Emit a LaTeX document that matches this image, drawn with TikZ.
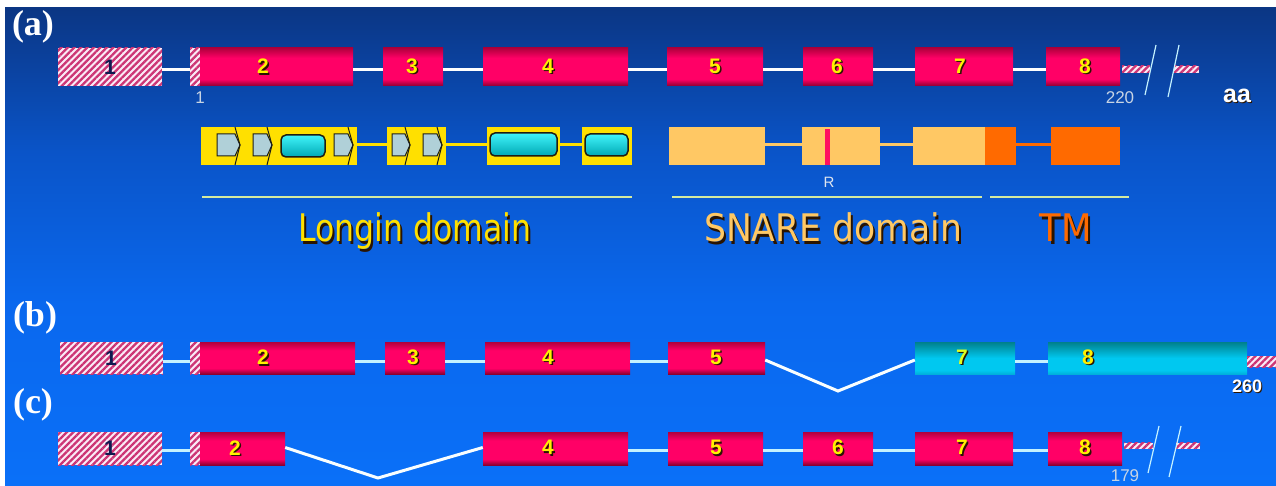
\documentclass[tikz,border=0pt]{standalone}
\usepackage{fontspec}
\setmainfont{Liberation Sans}
\newfontfamily\labelfont{Liberation Serif}
\newfontfamily\domfont{DejaVu Sans}
\usetikzlibrary{calc,patterns.meta}

\definecolor{bgA}{HTML}{0B3684}
\definecolor{bgB}{HTML}{0A54C8}
\definecolor{bgC}{HTML}{0A68EE}
\definecolor{bgD}{HTML}{0A70F8}
\definecolor{exTop}{HTML}{B0003C}
\definecolor{exMid}{HTML}{FF0066}
\definecolor{exBot}{HTML}{8C0030}
\definecolor{cyTop}{HTML}{00808C}
\definecolor{cyMid}{HTML}{00C8F0}
\definecolor{cyBot}{HTML}{00B0DC}
\definecolor{hatchFg}{HTML}{CC3474}
\definecolor{hatchBg}{HTML}{FAEAF6}
\definecolor{numYel}{HTML}{FFF000}
\definecolor{numLime}{HTML}{E0FF20}
\definecolor{numShd}{HTML}{2A1400}
\definecolor{navy}{HTML}{0E1A50}
\definecolor{lgYel}{HTML}{FFE000}
\definecolor{lgArrow}{HTML}{B0D0D8}
\definecolor{lgEdge}{HTML}{1E1E14}
\definecolor{lgCyA}{HTML}{40F4FA}
\definecolor{lgCyB}{HTML}{00A8B4}
\definecolor{snLight}{HTML}{FFC864}
\definecolor{tmOrange}{HTML}{FF6A00}
\definecolor{rBar}{HTML}{FF1060}
\definecolor{ruleCol}{HTML}{D4EAA0}
\definecolor{intronB}{HTML}{C4F2FF}
\definecolor{numGray}{HTML}{C8D4E4}

\pgfdeclareverticalshading{bgshade}{100bp}{color(0bp)=(bgD); color(25bp)=(bgD); color(44bp)=(bgC); color(60bp)=(bgB); color(75bp)=(bgA); color(100bp)=(bgA)}
\pgfdeclareverticalshading{exonshade}{100bp}{color(0bp)=(exBot); color(25bp)=(exBot); color(34bp)=(exMid); color(62bp)=(exMid); color(75bp)=(exTop); color(100bp)=(exTop)}
\pgfdeclareverticalshading{cyanshade}{100bp}{color(0bp)=(cyBot); color(25bp)=(cyBot); color(31bp)=(cyMid); color(50bp)=(cyMid); color(75bp)=(cyTop); color(100bp)=(cyTop)}

% text with a dark drop shadow: offset, shadow colour, text colour, text
\newcommand\shtxt[4]{\rlap{\kern#1\raisebox{-#1}{\textcolor{#2}{#4}}}\textcolor{#3}{#4}}

% Longin motif: right-pointing block with a chevron divider
\newcommand\lgarrow[3]{%
  \draw[lgarrowsty] (#1,134) -- (#2,134) -- (#3,145) -- (#2,156) -- (#1,156) -- cycle;
  \draw[chev] (#3-5,127) -- (#3,145) -- (#3-5,165);}

\begin{document}
\begin{tikzpicture}[x=1pt,y=-1pt,
  exon/.style={rectangle, inner sep=0pt, shade, shading=exonshade},
  cyexon/.style={rectangle, inner sep=0pt, shade, shading=cyanshade},
  hatch/.style={rectangle, inner sep=0pt, fill=hatchBg,
    postaction={pattern={Lines[angle=45,distance=4.6pt,line width=2.3pt]}, pattern color=hatchFg}},
  num/.style={inner sep=0pt, font=\fontsize{21}{21}\selectfont\bfseries},
  hnum/.style={inner sep=0pt, font=\fontsize{21}{21}\selectfont\bfseries, text=navy},
  intronA/.style={draw=white, line width=3pt},
  intronC/.style={draw=intronB, line width=3pt},
  slash/.style={draw=intronB, line width=1.2pt},
  panel/.style={inner sep=0pt, anchor=base, text=white, font=\fontsize{36}{36}\selectfont\labelfont\bfseries},
  small/.style={inner sep=0pt, text=numGray, font=\fontsize{17}{17}\selectfont},
  lgblock/.style={rectangle, inner sep=0pt, fill=lgYel, minimum height=38},
  lgline/.style={draw=lgYel, line width=3pt},
  lgarrowsty/.style={fill=lgArrow, draw=lgEdge, line width=1pt, line join=miter},
  chev/.style={draw=lgEdge, line width=1pt},
  lgcyan/.style={rectangle, inner sep=0pt, rounded corners=5pt, draw=lgEdge, line width=1.5pt,
    top color=lgCyA, bottom color=lgCyB},
  snblock/.style={rectangle, inner sep=0pt, fill=snLight, minimum height=38},
  tmblock/.style={rectangle, inner sep=0pt, fill=tmOrange, minimum height=38},
  rulesty/.style={draw=ruleCol, line width=1.5pt},
  domtext/.style={inner sep=0pt, anchor=base, font=\fontsize{38}{38}\selectfont\domfont}
]
\useasboundingbox (0,0) rectangle (1276,486);
\fill[white] (0,0) rectangle (1276,486);
\shade[shading=bgshade] (5,8) rectangle (1276,486);

%% ---------------- row (a) ----------------
\node[panel] (pa) at (33,36) {(a)};
\node[hatch, minimum width=104, minimum height=38] (a1) at (110,67) {};
\node[hatch, minimum width=10, minimum height=38] (a2h) at (195,67) {};
\node[exon, minimum width=153, minimum height=38] (a2) at (276.5,67) {};
\node[exon, minimum width=60, minimum height=38] (a3) at (413,67) {};
\node[exon, minimum width=145, minimum height=38] (a4) at (555.5,67) {};
\node[exon, minimum width=96, minimum height=38] (a5) at (715,67) {};
\node[exon, minimum width=70, minimum height=38] (a6) at (838,67) {};
\node[exon, minimum width=98, minimum height=38] (a7) at (964,67) {};
\node[exon, minimum width=74, minimum height=38] (a8) at (1083,67) {};
\node[hatch, minimum width=28, minimum height=7] (a9) at (1136,69.5) {};
\node[hatch, minimum width=25, minimum height=7] (a10) at (1186.5,69.5) {};

\draw[intronA] ($(a1.east)+(0,3)$) -- ($(a2h.west)+(0,3)$);
\draw[intronA] ($(a2.east)+(0,3)$) -- ($(a3.west)+(0,3)$);
\draw[intronA] ($(a3.east)+(0,3)$) -- ($(a4.west)+(0,3)$);
\draw[intronA] ($(a4.east)+(0,3)$) -- ($(a5.west)+(0,3)$);
\draw[intronA] ($(a5.east)+(0,3)$) -- ($(a6.west)+(0,3)$);
\draw[intronA] ($(a6.east)+(0,3)$) -- ($(a7.west)+(0,3)$);
\draw[intronA] ($(a7.east)+(0,3)$) -- ($(a8.west)+(0,3)$);

\coordinate (sa1) at (1156,45); \coordinate (sa2) at (1145,95);
\coordinate (sa3) at (1179,45); \coordinate (sa4) at (1168,97);
\draw[slash] (sa1) -- (sa2);
\draw[slash] (sa3) -- (sa4);

\node[hnum] (na1) at (110,67) {1};
\node[num] (na2) at (263,67) {\shtxt{1.5pt}{numShd}{numYel}{2}};
\node[num] (na3) at (412,67) {\shtxt{1.5pt}{numShd}{numYel}{3}};
\node[num] (na4) at (548,67) {\shtxt{1.5pt}{numShd}{numYel}{4}};
\node[num] (na5) at (715,67) {\shtxt{1.5pt}{numShd}{numYel}{5}};
\node[num] (na6) at (837,67) {\shtxt{1.5pt}{numShd}{numYel}{6}};
\node[num] (na7) at (960,67) {\shtxt{1.5pt}{numShd}{numYel}{7}};
\node[num] (na8) at (1085,67) {\shtxt{1.5pt}{numShd}{numYel}{8}};

\node[small] (pos1) at (200,98) {1};
\node[small] (pos220) at (1120,98) {220};
\node[inner sep=0pt, font=\fontsize{25}{25}\selectfont\bfseries] (aa) at (1237,96)
  {\shtxt{1pt}{numShd}{white}{aa}};

%% ---------------- domain map ----------------
\node[lgblock, minimum width=156] (L1) at (279,146) {};
\node[lgblock, minimum width=59] (L2) at (416.5,146) {};
\node[lgblock, minimum width=73] (L3) at (523.5,146) {};
\node[lgblock, minimum width=50] (L4) at (607,146) {};
\draw[lgline] ($(L1.east)+(0,-1)$) -- ($(L2.west)+(0,-1)$);
\draw[lgline] ($(L2.east)+(0,-1)$) -- ($(L3.west)+(0,-1)$);
\draw[lgline] ($(L3.east)+(0,-1)$) -- ($(L4.west)+(0,-1)$);

\lgarrow{217}{235}{240}
\lgarrow{253}{267}{272}
\lgarrow{334}{348}{353}
\lgarrow{392}{405}{410}
\lgarrow{423}{437}{442}
\node[lgcyan, minimum width=44, minimum height=22] (cy1) at (303,146) {};
\node[lgcyan, minimum width=67, minimum height=23] (cy2) at (523.5,144.5) {};
\node[lgcyan, minimum width=43, minimum height=22] (cy3) at (606.5,145) {};

\node[snblock, minimum width=96] (S1) at (717,146) {};
\node[snblock, minimum width=78] (S2) at (841,146) {};
\node[snblock, minimum width=72] (S3) at (949,146) {};
\node[tmblock, minimum width=31] (T1) at (1000.5,146) {};
\node[tmblock, minimum width=69] (T2) at (1085.5,146) {};
\draw[draw=snLight, line width=3pt] ($(S1.east)+(0,-1)$) -- ($(S2.west)+(0,-1)$);
\draw[draw=snLight, line width=3pt] ($(S2.east)+(0,-1)$) -- ($(S3.west)+(0,-1)$);
\draw[draw=tmOrange, line width=3pt] ($(T1.east)+(0,-1)$) -- ($(T2.west)+(0,-1)$);
\node[rectangle, inner sep=0pt, fill=rBar, minimum width=5, minimum height=36] (rb) at (827.5,147) {};
\node[inner sep=0pt, text=numGray!60!white, font=\fontsize{15}{15}\selectfont] (R) at (829,182) {R};

\draw[rulesty] (202,197) -- (632,197);
\draw[rulesty] (672,197) -- (982,197);
\draw[rulesty] (990,197) -- (1129,197);

\node[domtext] (tLongin) at (415,242) {\scalebox{0.83}[1]{\shtxt{2.5pt}{numShd}{lgYel}{Longin domain}}};
\node[domtext] (tSnare) at (833,242) {\scalebox{0.91}[1]{\shtxt{2.5pt}{numShd}{snLight}{SNARE domain}}};
\node[domtext] (tTM) at (1066,242) {\scalebox{0.93}[1]{\shtxt{2.5pt}{numShd}{tmOrange}{TM}}};

%% ---------------- row (b) ----------------
\node[panel] (pb) at (35,326) {(b)};
\node[hatch, minimum width=103, minimum height=32] (b1) at (111.5,358) {};
\node[hatch, minimum width=10, minimum height=32] (b2h) at (195,358) {};
\node[exon, minimum width=155, minimum height=32] (b2) at (277.5,358) {};
\node[exon, minimum width=60, minimum height=32] (b3) at (415,358) {};
\node[exon, minimum width=145, minimum height=32] (b4) at (557.5,358) {};
\node[exon, minimum width=97, minimum height=32] (b5) at (716.5,358) {};
\node[cyexon, minimum width=100, minimum height=32] (b7) at (965,358) {};
\node[cyexon, minimum width=199, minimum height=32] (b8) at (1147.5,358) {};
\node[hatch, minimum width=29, minimum height=11] (b9) at (1261.5,361.5) {};

\draw[intronC] ($(b1.east)+(0,3)$) -- ($(b2h.west)+(0,3)$);
\draw[intronC] ($(b2.east)+(0,3)$) -- ($(b3.west)+(0,3)$);
\draw[intronC] ($(b3.east)+(0,3)$) -- ($(b4.west)+(0,3)$);
\draw[intronC] ($(b4.east)+(0,3)$) -- ($(b5.west)+(0,3)$);
\coordinate (vb) at (838,391);
\draw[draw=white!90!intronB, line width=3pt, line join=miter] ($(b5.east)+(0,2)$) -- (vb) -- ($(b7.west)+(0,2)$);
\draw[intronC] ($(b7.east)+(0,3)$) -- ($(b8.west)+(0,3)$);

\node[hnum] (nb1) at (111,358) {1};
\node[num] (nb2) at (263,358) {\shtxt{1.5pt}{numShd}{numYel}{2}};
\node[num] (nb3) at (413,358) {\shtxt{1.5pt}{numShd}{numYel}{3}};
\node[num] (nb4) at (548,358) {\shtxt{1.5pt}{numShd}{numYel}{4}};
\node[num] (nb5) at (716,358) {\shtxt{1.5pt}{numShd}{numYel}{5}};
\node[num] (nb7) at (962,358) {\shtxt{1.5pt}{numShd}{numLime}{7}};
\node[num] (nb8) at (1088,358) {\shtxt{1.5pt}{numShd}{numYel}{8}};
\node[inner sep=0pt, font=\fontsize{18}{18}\selectfont\bfseries] (pos260) at (1247,387)
  {\shtxt{1.2pt}{numShd}{white}{260}};

%% ---------------- row (c) ----------------
\node[panel] (pc) at (33,413) {(c)};
\node[hatch, minimum width=104, minimum height=33] (c1) at (110,448.5) {};
\node[hatch, minimum width=10, minimum height=33] (c2h) at (195,448.5) {};
\node[exon, minimum width=85, minimum height=33] (c2) at (242.5,448.5) {};
\node[exon, minimum width=145, minimum height=33] (c4) at (555.5,448.5) {};
\node[exon, minimum width=95, minimum height=33] (c5) at (715.5,448.5) {};
\node[exon, minimum width=70, minimum height=33] (c6) at (838,448.5) {};
\node[exon, minimum width=98, minimum height=33] (c7) at (964,448.5) {};
\node[exon, minimum width=74, minimum height=33] (c8) at (1085,448.5) {};
\node[hatch, minimum width=29, minimum height=6] (c9) at (1138.5,445.5) {};
\node[hatch, minimum width=24, minimum height=6] (c10) at (1188,445.5) {};

\draw[intronC] ($(c1.east)+(0,2)$) -- ($(c2h.west)+(0,2)$);
\coordinate (vc) at (378,478);
\draw[draw=white!90!intronB, line width=3pt, line join=miter] ($(c2.east)+(0,-1)$) -- (vc) -- ($(c4.west)+(0,-1)$);
\draw[intronC] ($(c4.east)+(0,2)$) -- ($(c5.west)+(0,2)$);
\draw[intronC] ($(c5.east)+(0,2)$) -- ($(c6.west)+(0,2)$);
\draw[intronC] ($(c6.east)+(0,2)$) -- ($(c7.west)+(0,2)$);
\draw[intronC] ($(c7.east)+(0,2)$) -- ($(c8.west)+(0,2)$);

\coordinate (sc1) at (1159,426); \coordinate (sc2) at (1148,473);
\coordinate (sc3) at (1181,426); \coordinate (sc4) at (1169,477);
\draw[slash] (sc1) -- (sc2);
\draw[slash] (sc3) -- (sc4);

\node[hnum] (nc1) at (110,448.5) {1};
\node[num] (nc2) at (235,448.5) {\shtxt{1.5pt}{numShd}{numYel}{2}};
\node[num] (nc4) at (548,448.5) {\shtxt{1.5pt}{numShd}{numYel}{4}};
\node[num] (nc5) at (716,448.5) {\shtxt{1.5pt}{numShd}{numYel}{5}};
\node[num] (nc6) at (838,448.5) {\shtxt{1.5pt}{numShd}{numYel}{6}};
\node[num] (nc7) at (962,448.5) {\shtxt{1.5pt}{numShd}{numYel}{7}};
\node[num] (nc8) at (1085,448.5) {\shtxt{1.5pt}{numShd}{numYel}{8}};
\node[small] (pos179) at (1125,476) {179};
\end{tikzpicture}
\end{document}
